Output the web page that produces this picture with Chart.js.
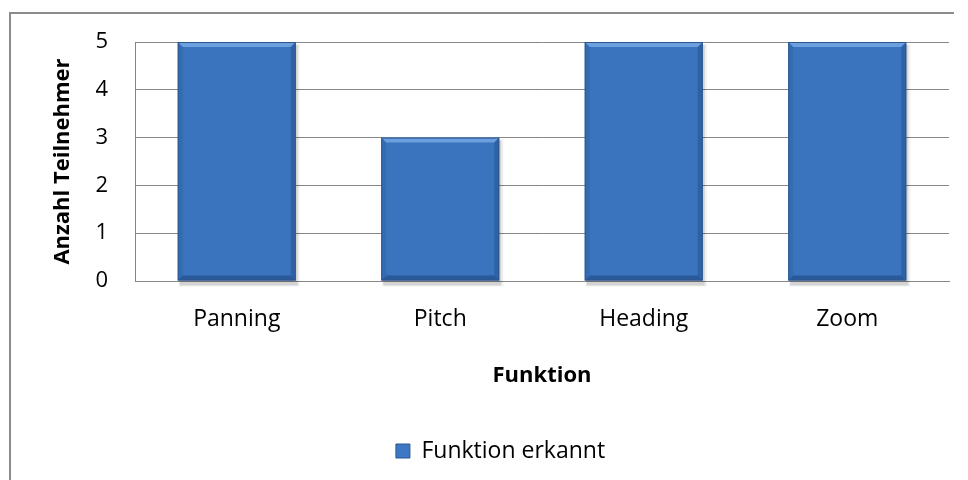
<!DOCTYPE html>
<html>
<head>
<meta charset="utf-8">
<script src="https://cdn.jsdelivr.net/npm/chart.js@4"></script>
<style>
html,body{margin:0;padding:0;background:#fff;}
#wrap{width:968px;height:480px;position:relative;}
</style>
</head>
<body>
<div id="wrap"><canvas id="c" width="968" height="480"></canvas></div>
<script>
const categories = ['Panning', 'Pitch', 'Heading', 'Zoom'];
const seriesName = 'Funktion erkannt';
const values = [5, 3, 5, 5];
const yTicks = [0, 1, 2, 3, 4, 5];
const xTitle = 'Funktion';
const yTitle = 'Anzahl Teilnehmer';

const FONT = '"Open Sans", "Noto Sans", sans-serif';

function barGradient(ctx) {
  const chart = ctx.chart;
  const el = ctx.element || (chart.getDatasetMeta(ctx.datasetIndex).data[ctx.dataIndex]);
  if (!chart.chartArea || !el || el.y === undefined) return '#3a74be';
  const top = Math.min(el.y, el.base), bot = Math.max(el.y, el.base);
  if (!isFinite(top) || !isFinite(bot) || bot - top < 1) return '#3a74be';
  const g = chart.ctx.createLinearGradient(0, top, 0, bot);
  g.addColorStop(0, '#4a8ad8');
  g.addColorStop(0.45, '#3c78c4');
  g.addColorStop(1, '#2e5c98');
  return g;
}

const frame = {
  id: 'frame',
  beforeDraw(chart) {
    const c = chart.ctx;
    c.save();
    c.strokeStyle = '#8c8c8c';
    c.lineWidth = 2;
    c.beginPath();
    c.moveTo(10, 481);
    c.lineTo(10, 13);
    c.lineTo(954, 13);
    c.stroke();
    c.restore();
  }
};

const legendShift = {
  id: 'legendShift',
  afterLayout(chart) {
    if (chart.legend) { chart.legend.left += 26; chart.legend.right += 26; }
  }
};

const bevel = {
  id: 'bevel',
  beforeDatasetsDraw(chart) {
    const c = chart.ctx;
    const meta = chart.getDatasetMeta(0);
    c.save();
    meta.data.forEach(el => {
      const l = el.x - el.width / 2, w = el.width, t = el.y, h = el.base - el.y;
      c.fillStyle = 'rgba(0,0,0,0.12)';
      c.fillRect(l + 2, t + 3, w, h + 2);
      c.fillStyle = 'rgba(0,0,0,0.06)';
      c.fillRect(l + 1, t + 2, w + 3, h + 4);
    });
    c.restore();
  },
  afterDatasetsDraw(chart) {
    const c = chart.ctx;
    const meta = chart.getDatasetMeta(0);
    c.save();
    meta.data.forEach(el => {
      const l = el.x - el.width / 2, r = el.x + el.width / 2, t = el.y, b = el.base;
      const d = 5;
      c.fillStyle = 'rgba(150,195,245,0.55)';
      c.beginPath(); c.moveTo(l, t); c.lineTo(r, t); c.lineTo(r - d, t + d); c.lineTo(l + d, t + d); c.closePath(); c.fill();
      c.fillStyle = 'rgba(30,70,130,0.18)';
      c.beginPath(); c.moveTo(l, t); c.lineTo(l + d, t + d); c.lineTo(l + d, b - d); c.lineTo(l, b); c.closePath(); c.fill();
      c.fillStyle = 'rgba(20,50,100,0.28)';
      c.beginPath(); c.moveTo(r, t); c.lineTo(r - d, t + d); c.lineTo(r - d, b - d); c.lineTo(r, b); c.closePath(); c.fill();
      c.fillStyle = 'rgba(20,50,100,0.4)';
      c.beginPath(); c.moveTo(l, b); c.lineTo(l + d, b - d); c.lineTo(r - d, b - d); c.lineTo(r, b); c.closePath(); c.fill();
      c.strokeStyle = '#2b5790';
      c.lineWidth = 1;
      c.strokeRect(l + 0.5, t + 0.5, r - l - 1, b - t - 1);
    });
    c.restore();
  }
};

new Chart(document.getElementById('c'), {
  type: 'bar',
  data: {
    labels: categories,
    datasets: [{
      label: seriesName,
      data: values,
      backgroundColor: barGradient,
      borderWidth: 0,
      categoryPercentage: 1,
      barPercentage: 0.58
    }]
  },
  options: {
    responsive: false,
    animation: false,
    devicePixelRatio: 1,
    layout: { padding: { top: 42, right: 19, left: 0, bottom: 7.5 } },
    plugins: {
      tooltip: { enabled: false },
      legend: {
        position: 'bottom',
        labels: {
          boxWidth: 14, boxHeight: 14, color: '#000',
          font: { family: FONT, size: 23 },
          padding: 10,
          generateLabels(chart) {
            return [{ text: seriesName, fillStyle: '#3c78c4', strokeStyle: '#2b5790', lineWidth: 1, datasetIndex: 0 }];
          }
        }
      }
    },
    scales: {
      x: {
        grid: { display: false, drawTicks: false },
        border: { display: true, color: '#868686', width: 1 },
        ticks: { color: '#000', font: { family: FONT, size: 23 }, padding: 25 },
        title: { display: true, text: xTitle, color: '#000', font: { family: FONT, size: 22, weight: 'bold' }, padding: { top: 10, bottom: 40.3 } },
        afterFit(axis) { axis.height = 148.5; }
      },
      y: {
        min: 0, max: 5,
        afterBuildTicks(axis) { axis.ticks = yTicks.map(v => ({ value: v })); },
        grid: { color: '#868686', lineWidth: 1, drawTicks: false },
        border: { display: true, color: '#868686', width: 1 },
        ticks: { color: '#000', font: { family: FONT, size: 22 }, padding: 27 },
        title: { display: true, text: yTitle, color: '#000', font: { family: FONT, size: 22, weight: 'bold' }, padding: { top: 50, bottom: 0 } },
        afterFit(axis) { axis.width = 135; }
      }
    }
  },
  plugins: [frame, legendShift, bevel]
});
</script>
</body>
</html>
